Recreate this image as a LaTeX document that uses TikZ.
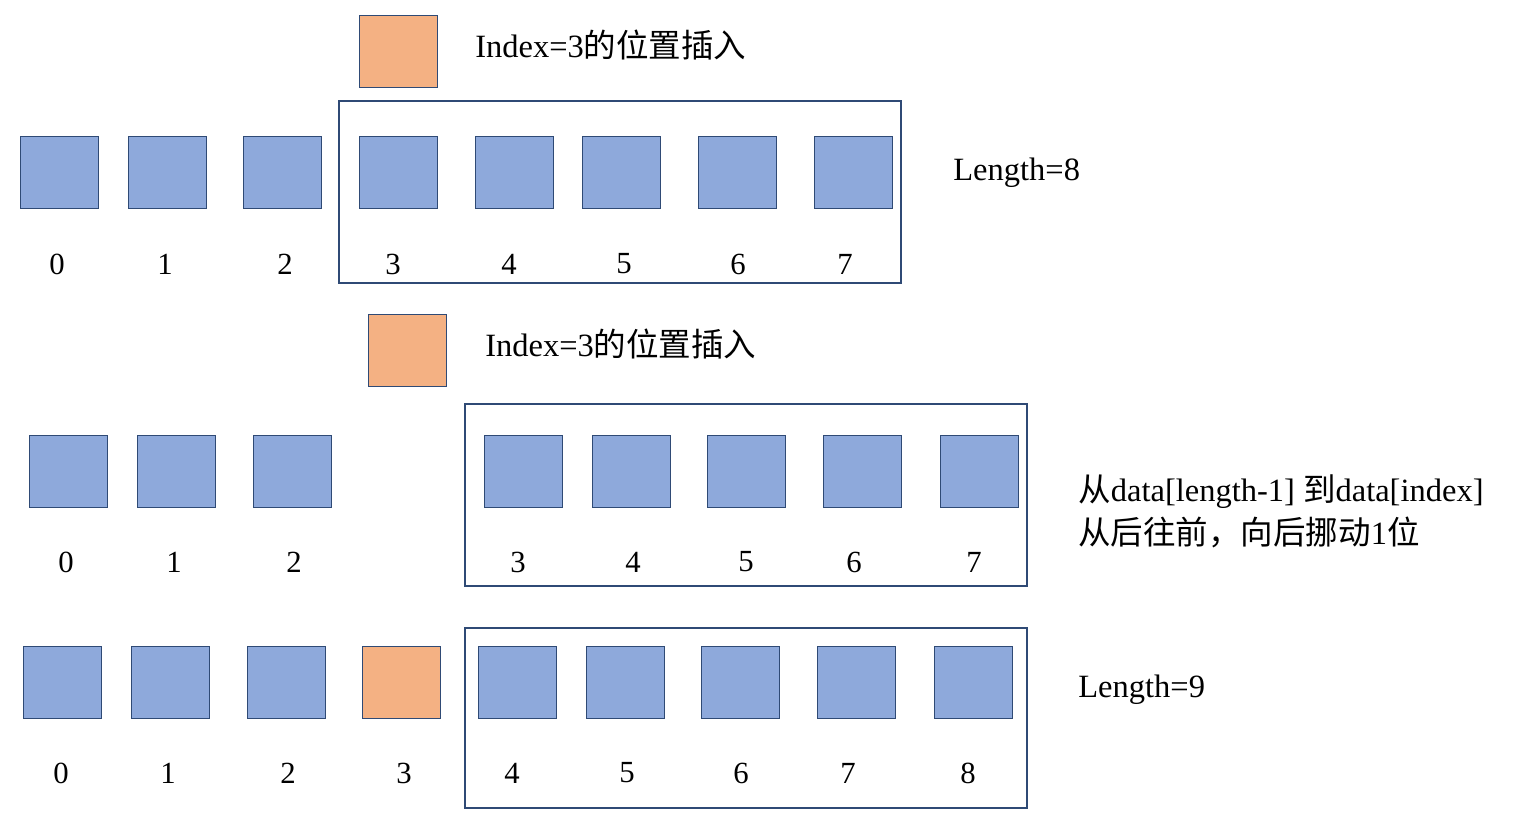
\documentclass[tikz,border=0pt]{standalone}
\usepackage{fontspec}
\setmainfont{Liberation Serif}
\newfontfamily\cjk{Noto Sans CJK SC}
\definecolor{bfill}{HTML}{8EA9DB}
\definecolor{bdraw}{HTML}{2F4A75}
\definecolor{ofill}{HTML}{F4B183}
\begin{document}
\begin{tikzpicture}[x=0.02cm,y=-0.02cm,
  sq/.style={draw=bdraw,line width=1pt,fill=bfill,minimum width=78*0.02cm,minimum height=72*0.02cm,inner sep=0,anchor=north west},
  osq/.style={sq,fill=ofill},
  frame/.style={draw=bdraw,line width=1.2pt},
  lbl/.style={font=\fontsize{17.5}{20}\selectfont,inner sep=0},
  txt/.style={font=\fontsize{18.5}{24.5}\selectfont,inner sep=0,anchor=west,align=left}]
\useasboundingbox (0,0) rectangle (1535,816);
% row 1
\node[osq] (o1) at (358.5,14.5) {};
\node[txt] (t1) at (475,45) {Index=3{\cjk 的位置插入}};
\foreach \x [count=\i] in {19,127,242,358,474,581,697,813} \node[sq] (a\i) at (\x+0.5,135.5) {};
\foreach \x/\l in {57/0,165/1,285/2,393/3,509/4,624/5,738/6,845/7} \node[lbl] (la\l) at (\x,264) {\l};
\draw[frame] (339,101) rectangle (901,283);
\node[txt] (len8) at (953,173) {Length=8};
% row 2
\node[osq] (o2) at (367.5,313.5) {};
\node[txt] (t2) at (485,344) {Index=3{\cjk 的位置插入}};
\foreach \x [count=\i] in {28,136,252,483,591,706,822,939} \node[sq] (b\i) at (\x+0.5,434.5) {};
\foreach \x/\l in {66/0,174/1,294/2,518/3,633/4,746/5,854/6,974/7} \node[lbl] (lb\l) at (\x,562) {\l};
\draw[frame] (465,404) rectangle (1027,586);
\node[txt] (t3) at (1078,511) {{\cjk 从}data[length-1] {\cjk 到}data[index]\\{\cjk 从后往前，向后挪动}1{\cjk 位}};
% row 3
\foreach \x [count=\i] in {22,130,246,477,585,700,816,933} \node[sq] (c\i) at (\x+0.5,645.5) {};
\node[osq] (o3) at (361.5,645.5) {};
\foreach \x/\l in {61/0,168/1,288/2,404/3,512/4,627/5,741/6,848/7,968/8} \node[lbl] (lc\l) at (\x,773) {\l};
\draw[frame] (465,628) rectangle (1027,808);
\node[txt] (len9) at (1078,690) {Length=9};
\end{tikzpicture}
\end{document}
